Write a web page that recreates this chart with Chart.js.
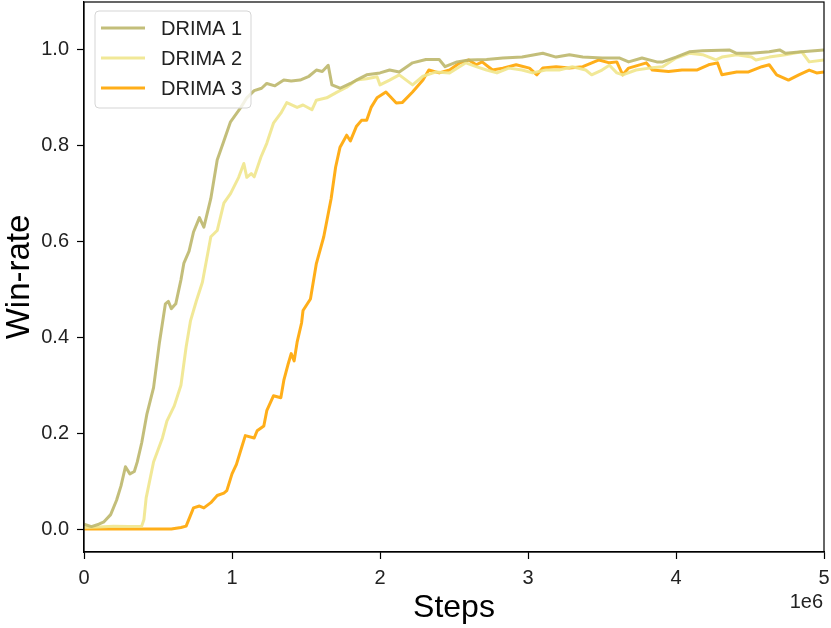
<!DOCTYPE html>
<html>
<head>
<meta charset="utf-8">
<script src="https://cdn.jsdelivr.net/npm/chart.js@4.4.1/dist/chart.umd.min.js"></script>
<style>
  body { margin: 0; background: #fff; }
  canvas { display: block; }
</style>
</head>
<body>
<canvas id="myCanvas" width="831" height="628"></canvas>
<script>
// steps are in units of 1e6
let drima1Steps = [
  0, 0.05, 0.10, 0.135, 0.18, 0.22, 0.25, 0.28, 0.31, 0.34,
  0.36, 0.39, 0.425, 0.47, 0.51, 0.55, 0.57, 0.59, 0.62, 0.655,
  0.675, 0.71, 0.74, 0.78, 0.81, 0.857, 0.90, 0.945, 0.99, 1.06,
  1.10, 1.15, 1.20, 1.235, 1.29, 1.35, 1.40, 1.46, 1.52, 1.57,
  1.61, 1.65, 1.675, 1.73, 1.80, 1.86, 1.91, 2.00, 2.065, 2.13,
  2.22, 2.31, 2.40, 2.44, 2.52, 2.60, 2.72, 2.83, 2.96, 3.10,
  3.19, 3.28, 3.37, 3.50, 3.62, 3.68, 3.77, 3.87, 3.91, 4.00,
  4.09, 4.18, 4.36, 4.41, 4.51, 4.63, 4.70, 4.74, 4.85, 5.00]
let drima1WinRate = [
  0.01, 0.005, 0.01, 0.015, 0.03, 0.06, 0.09, 0.13, 0.115, 0.12,
  0.14, 0.18, 0.24, 0.295, 0.39, 0.47, 0.475, 0.46, 0.47, 0.52,
  0.555, 0.58, 0.62, 0.65, 0.63, 0.69, 0.77, 0.81, 0.85, 0.88,
  0.90, 0.915, 0.92, 0.93, 0.925, 0.937, 0.935, 0.937, 0.945, 0.958,
  0.955, 0.968, 0.927, 0.92, 0.93, 0.94, 0.948, 0.952, 0.958, 0.954,
  0.973, 0.98, 0.98, 0.965, 0.975, 0.979, 0.98, 0.983, 0.985, 0.993,
  0.985, 0.99, 0.985, 0.983, 0.983, 0.975, 0.983, 0.975, 0.975, 0.985,
  0.996, 0.998, 1.0, 0.993, 0.993, 0.996, 1.0, 0.993, 0.996, 1.0]

let drima2Steps = [
  0, 0.10, 0.20, 0.30, 0.39, 0.405, 0.42, 0.47, 0.53, 0.56,
  0.61, 0.655, 0.69, 0.72, 0.76, 0.80, 0.857, 0.90, 0.945, 0.99,
  1.045, 1.08, 1.10, 1.13, 1.15, 1.195, 1.235, 1.28, 1.33, 1.37,
  1.44, 1.48, 1.54, 1.57, 1.64, 1.71, 1.775, 1.84, 1.91, 1.98,
  2.00, 2.065, 2.13, 2.22, 2.29, 2.38, 2.47, 2.58, 2.65, 2.72,
  2.79, 2.87, 2.96, 3.03, 3.12, 3.21, 3.30, 3.39, 3.43, 3.50,
  3.55, 3.60, 3.64, 3.73, 3.82, 3.91, 4.00, 4.09, 4.18, 4.27,
  4.31, 4.41, 4.51, 4.54, 4.63, 4.74, 4.85, 4.90, 5.00]
let drima2WinRate = [
  0.003, 0.004, 0.006, 0.005, 0.006, 0.02, 0.065, 0.14, 0.19, 0.225,
  0.257, 0.30, 0.38, 0.435, 0.477, 0.515, 0.61, 0.623, 0.68, 0.70,
  0.734, 0.763, 0.734, 0.742, 0.735, 0.776, 0.805, 0.847, 0.868, 0.89,
  0.88, 0.885, 0.875, 0.895, 0.90, 0.912, 0.922, 0.937, 0.94, 0.944,
  0.927, 0.937, 0.948, 0.927, 0.945, 0.954, 0.952, 0.973, 0.965, 0.958,
  0.952, 0.962, 0.958, 0.952, 0.958, 0.958, 0.965, 0.958, 0.948, 0.958,
  0.968, 0.952, 0.948, 0.958, 0.962, 0.965, 0.983, 0.993, 0.99, 0.979,
  0.985, 0.99, 0.985, 0.979, 0.985, 0.99, 0.996, 0.975, 0.979]

let drima3Steps = [
  0, 0.30, 0.59, 0.655, 0.69, 0.74, 0.78, 0.81, 0.857, 0.90,
  0.945, 0.965, 1.00, 1.03, 1.065, 1.09, 1.15, 1.17, 1.215, 1.235,
  1.28, 1.33, 1.35, 1.38, 1.40, 1.42, 1.44, 1.47, 1.48, 1.53,
  1.57, 1.62, 1.67, 1.70, 1.73, 1.775, 1.80, 1.84, 1.875, 1.91,
  1.94, 1.98, 2.04, 2.11, 2.15, 2.22, 2.29, 2.33, 2.40, 2.47,
  2.54, 2.60, 2.65, 2.69, 2.76, 2.83, 2.92, 3.01, 3.06, 3.10,
  3.19, 3.28, 3.37, 3.48, 3.55, 3.60, 3.64, 3.68, 3.80, 3.84,
  3.95, 4.04, 4.14, 4.22, 4.28, 4.31, 4.41, 4.49, 4.58, 4.63,
  4.68, 4.76, 4.83, 4.90, 4.95, 5.00]
let drima3WinRate = [
  0, 0, 0, 0.003, 0.006, 0.044, 0.048, 0.044, 0.055, 0.07,
  0.075, 0.08, 0.115, 0.135, 0.17, 0.195, 0.19, 0.205, 0.215, 0.247,
  0.278, 0.274, 0.31, 0.345, 0.366, 0.351, 0.39, 0.43, 0.456, 0.48,
  0.554, 0.61, 0.69, 0.755, 0.797, 0.822, 0.81, 0.84, 0.853, 0.853,
  0.88, 0.90, 0.912, 0.889, 0.89, 0.912, 0.937, 0.958, 0.952, 0.958,
  0.973, 0.979, 0.969, 0.975, 0.958, 0.962, 0.969, 0.962, 0.948, 0.962,
  0.965, 0.962, 0.965, 0.979, 0.973, 0.975, 0.948, 0.962, 0.973, 0.958,
  0.955, 0.958, 0.958, 0.969, 0.973, 0.948, 0.954, 0.954, 0.965, 0.969,
  0.948, 0.937, 0.948, 0.958, 0.952, 0.954]

let xTicks = [0, 1, 2, 3, 4, 5]
let yTicks = [0, 0.2, 0.4, 0.6, 0.8, 1.0]

let font = "'Liberation Sans', Arial, sans-serif"

function pairs(xs, ys) {
  return xs.map((x, i) => ({x: x, y: ys[i]}))
}

// matplotlib-style box, legend and offset text
let framePlugin = {
  id: 'frame',
  afterDraw(chart) {
    let ctx = chart.ctx
    let a = chart.chartArea
    ctx.save()
    ctx.strokeStyle = '#000'
    ctx.lineWidth = 1.2
    ctx.strokeRect(a.left, a.top, a.right - a.left, a.bottom - a.top)

    // legend
    let lx = 95, ly = 11, lw = 156, lh = 97
    ctx.beginPath()
    ctx.roundRect(lx, ly, lw, lh, 4)
    ctx.fillStyle = 'rgba(255,255,255,0.8)'
    ctx.fill()
    ctx.strokeStyle = '#d5d5d5'
    ctx.lineWidth = 1
    ctx.stroke()
    ctx.font = '20px ' + font
    ctx.textBaseline = 'middle'
    chart.data.datasets.forEach((ds, i) => {
      let y = 28 + i * 30
      ctx.strokeStyle = ds.borderColor
      ctx.lineWidth = ds.borderWidth
      ctx.beginPath()
      ctx.moveTo(101, y)
      ctx.lineTo(145, y)
      ctx.stroke()
      ctx.fillStyle = '#222'
      ctx.fillText(ds.label, 161, y + 1)
    })

    ctx.fillStyle = '#222'
    ctx.textAlign = 'right'
    ctx.textBaseline = 'alphabetic'
    ctx.fillText('1e6', a.right - 1, 608)
    ctx.restore()
  }
}

let grafic = document.querySelector('#myCanvas').getContext('2d')
let myChart = new Chart(grafic, {
  type: 'line',
  data: {
    datasets: [{
      label: 'DRIMA 1',
      data: pairs(drima1Steps, drima1WinRate),
      borderColor: 'rgba(189, 183, 107, 0.9)',
      borderWidth: 3
    },
    {
      label: 'DRIMA 2',
      data: pairs(drima2Steps, drima2WinRate),
      borderColor: 'rgba(240, 230, 140, 0.9)',
      borderWidth: 3
    },
    {
      label: 'DRIMA 3',
      data: pairs(drima3Steps, drima3WinRate),
      borderColor: 'rgba(255, 165, 0, 0.9)',
      borderWidth: 3
    }]
  },
  options: {
    responsive: false,
    animation: false,
    devicePixelRatio: 1,
    elements: { point: { radius: 0 }, line: { tension: 0, borderJoinStyle: 'round' } },
    layout: { padding: { top: 2, right: 7, left: 0, bottom: 0 } },
    scales: {
      x: {
        type: 'linear',
        min: 0,
        max: 5,
        afterBuildTicks(scale) { scale.ticks = xTicks.map(v => ({value: v})) },
        afterFit(scale) {
          scale.height = 76
          scale.paddingLeft = 0
          scale.paddingRight = 0
        },
        ticks: {
          color: '#222',
          font: { family: font, size: 20 },
          padding: 7,
          maxRotation: 0,
          callback: v => String(v)
        },
        grid: { drawOnChartArea: false, drawTicks: true, tickLength: 7, color: '#000', tickWidth: 1.2 },
        border: { display: true, color: '#000', width: 1.2 },
        title: {
          display: true,
          text: 'Steps',
          color: '#000',
          font: { family: font, size: 32 },
          padding: { top: 0, bottom: 1 }
        }
      },
      y: {
        min: -0.048,
        max: 1.1,
        afterBuildTicks(scale) { scale.ticks = yTicks.map(v => ({value: v})) },
        afterFit(scale) {
          scale.width = 84
          scale.paddingTop = 0
          scale.paddingBottom = 0
        },
        ticks: {
          color: '#222',
          font: { family: font, size: 20 },
          padding: 8,
          callback: v => v.toFixed(1)
        },
        grid: { drawOnChartArea: false, drawTicks: true, tickLength: 7, color: '#000', tickWidth: 1.2 },
        border: { display: true, color: '#000', width: 1.2 },
        title: {
          display: true,
          text: 'Win-rate',
          color: '#000',
          font: { family: font, size: 33 },
          padding: { top: 0, bottom: 0 }
        }
      }
    },
    plugins: {
      legend: { display: false },
      tooltip: { enabled: false }
    }
  },
  plugins: [framePlugin]
})
</script>
</body>
</html>
